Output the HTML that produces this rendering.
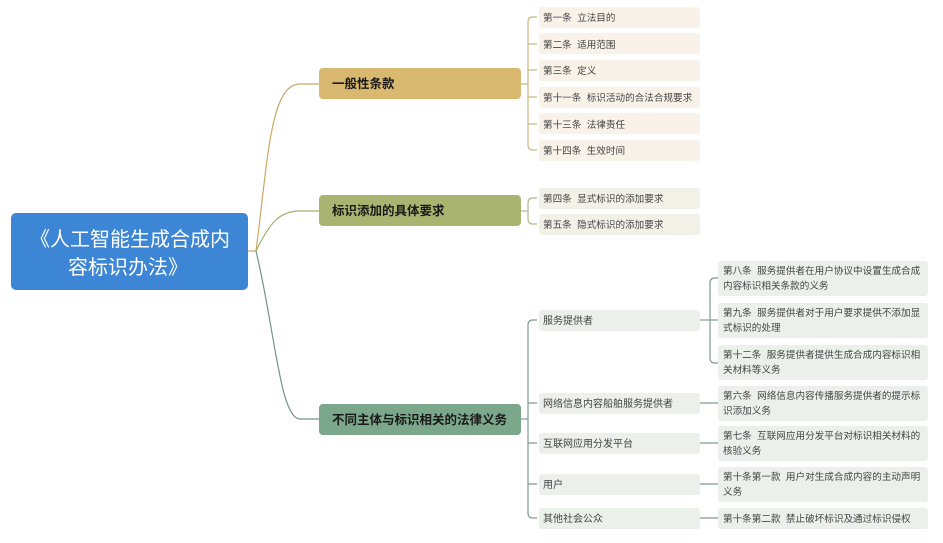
<!DOCTYPE html>
<html><head><meta charset="utf-8"><style>
html,body{margin:0;padding:0;background:#fff;width:943px;height:543px;overflow:hidden}
svg{display:block}
text{font-family:"Liberation Sans","Noto Sans CJK SC",sans-serif;white-space:pre}
.l{font-size:10px;fill:#444}
.r{font-size:9.6px;fill:#444}
.b{font-size:12.5px;font-weight:bold;fill:#1a1a1a}
</style></head><body>
<svg width="943" height="543" viewBox="0 0 943 543" xmlns="http://www.w3.org/2000/svg" xml:space="preserve">
<g fill="none" stroke-width="1.2">
<path d="M247 251 H256 C268 160 270 84 300 84 H319" stroke="#c9a868"/>
<path d="M256 251 C270 222 280 211 300 211 H319" stroke="#a4ad6e"/>
<path d="M256 251 C275 330 280 419 300 419 H319" stroke="#6f9680"/>
<g stroke="#c9b77f">
<path d="M521 84 H528"/>
<path d="M537 17 H533 Q528 17 528 22 V145 Q528 150 533 150 H537"/>
<path d="M528 44 H537 M528 70 H537 M528 97 H537 M528 124 H537"/>
</g>
<g stroke="#b3b68a">
<path d="M521 211 H528"/>
<path d="M537 198 H533 Q528 198 528 203 V219 Q528 224 533 224 H537"/>
</g>
<g stroke="#7c9c8a">
<path d="M521 419 H528"/>
<path d="M537 320 H533 Q528 320 528 325 V513 Q528 518 533 518 H537"/>
<path d="M528 403 H537 M528 443 H537 M528 484 H537"/>
<path d="M700 320 H710"/>
<path d="M718 278 H715 Q710 278 710 283 V358 Q710 363 715 363 H718"/>
<path d="M710 320 H718"/>
<path d="M700 403 H718 M700 443 H718 M700 484 H718 M700 518 H718"/>
</g>
</g>
<rect x="11" y="213" width="237" height="77" rx="5" fill="#3d85d5"/>
<text x="130" y="246" text-anchor="middle" font-size="20" fill="#fff">《人工智能生成合成内</text>
<text x="128" y="274" text-anchor="middle" font-size="20" fill="#fff">容标识办法》</text>
<rect x="319" y="68" width="202" height="31" rx="4" fill="#d9b86f"/>
<text x="332" y="88" class="b">一般性条款</text>
<rect x="319" y="195" width="202" height="31" rx="4" fill="#a8b46f"/>
<text x="332" y="215" class="b">标识添加的具体要求</text>
<rect x="319" y="404" width="202" height="31" rx="4" fill="#7ba78a"/>
<text x="332" y="424" class="b">不同主体与标识相关的法律义务</text>
<g fill="#f8f2e8">
<rect x="539" y="7" width="161" height="21" rx="3"/>
<rect x="539" y="33" width="161" height="21" rx="3"/>
<rect x="539" y="60" width="161" height="21" rx="3"/>
<rect x="539" y="87" width="161" height="21" rx="3"/>
<rect x="539" y="113" width="161" height="21" rx="3"/>
<rect x="539" y="140" width="161" height="21" rx="3"/>
</g>
<text class="r" x="543" y="21">第一条  立法目的</text>
<text class="r" x="543" y="48">第二条  适用范围</text>
<text class="r" x="543" y="74">第三条  定义</text>
<text class="r" x="543" y="101">第十一条  标识活动的合法合规要求</text>
<text class="r" x="543" y="128">第十三条  法律责任</text>
<text class="r" x="543" y="154">第十四条  生效时间</text>
<g fill="#f2f1e8">
<rect x="539" y="188" width="161" height="21" rx="3"/>
<rect x="539" y="214" width="161" height="21" rx="3"/>
</g>
<text class="r" x="543" y="202">第四条  显式标识的添加要求</text>
<text class="r" x="543" y="228">第五条  隐式标识的添加要求</text>
<g fill="#ebf0eb">
<rect x="539" y="310" width="161" height="21" rx="3"/>
<rect x="539" y="393" width="161" height="21" rx="3"/>
<rect x="539" y="433" width="161" height="21" rx="3"/>
<rect x="539" y="474" width="161" height="21" rx="3"/>
<rect x="539" y="508" width="161" height="21" rx="3"/>
</g>
<text class="l" x="543" y="324">服务提供者</text>
<text class="l" x="543" y="407">网络信息内容船舶服务提供者</text>
<text class="l" x="543" y="447">互联网应用分发平台</text>
<text class="l" x="543" y="488">用户</text>
<text class="l" x="543" y="522">其他社会公众</text>
<g fill="#ebf0eb">
<rect x="718" y="261" width="210" height="35" rx="3"/>
<rect x="718" y="303" width="210" height="35" rx="3"/>
<rect x="718" y="345" width="210" height="35" rx="3"/>
<rect x="718" y="386" width="210" height="35" rx="3"/>
<rect x="718" y="426" width="210" height="35" rx="3"/>
<rect x="718" y="467" width="210" height="35" rx="3"/>
<rect x="718" y="508" width="210" height="21" rx="3"/>
</g>
<text class="r" x="723" y="274">第八条  服务提供者在用户协议中设置生成合成</text>
<text class="r" x="723" y="289">内容标识相关条款的义务</text>
<text class="r" x="723" y="316">第九条  服务提供者对于用户要求提供不添加显</text>
<text class="r" x="723" y="331">式标识的处理</text>
<text class="r" x="723" y="358">第十二条  服务提供者提供生成合成内容标识相</text>
<text class="r" x="723" y="373">关材料等义务</text>
<text class="r" x="723" y="399">第六条  网络信息内容传播服务提供者的提示标</text>
<text class="r" x="723" y="414">识添加义务</text>
<text class="r" x="723" y="439">第七条  互联网应用分发平台对标识相关材料的</text>
<text class="r" x="723" y="454">核验义务</text>
<text class="r" x="723" y="480">第十条第一款  用户对生成合成内容的主动声明</text>
<text class="r" x="723" y="495">义务</text>
<text class="r" x="723" y="522">第十条第二款  禁止破坏标识及通过标识侵权</text>
</svg>
</body></html>
